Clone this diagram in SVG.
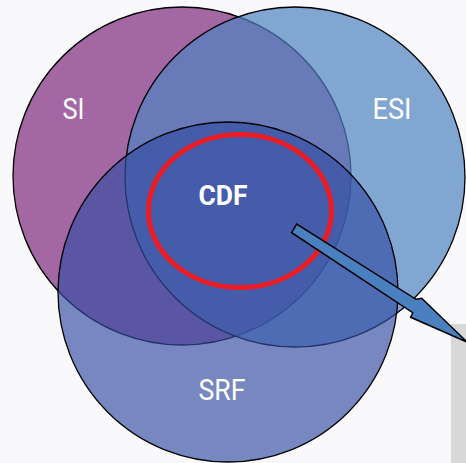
<svg xmlns="http://www.w3.org/2000/svg" width="466" height="463" viewBox="0 0 466 463">
  <style>
    .set { stroke: #000; stroke-width: 1.3; }
    .lbl { font-family: Roboto, "Liberation Sans", sans-serif; font-size: 29px; fill: #fff; text-anchor: middle; }
    .core { font-weight: bold; font-size: 27px; }
  </style>
  <rect x="0" y="0" width="466" height="463" fill="#f9f9fc"/>
  <!-- side panel -->
  <rect x="451" y="324" width="15" height="139" fill="#d8d8d8"/>

  <g id="node-si">
    <circle class="set" cx="182" cy="176" r="169" fill="#a367a4"/>
  </g>
  <g id="node-esi">
    <circle class="set" cx="295" cy="177" r="170" fill="#4f83c0" fill-opacity="0.7"/>
  </g>
  <g id="node-srf">
    <circle class="set" cx="228" cy="292" r="170" fill="#334da2" fill-opacity="0.66"/>
  </g>
  <g id="node-cdf">
    <ellipse cx="240" cy="211" rx="91.5" ry="76.5" fill="none" stroke="#ec1c24" stroke-width="5"/>
  </g>

  <g id="labels">
    <text class="lbl" x="73.5" y="119" textLength="22" lengthAdjust="spacingAndGlyphs">SI</text>
    <text class="lbl" x="392" y="119" textLength="39" lengthAdjust="spacingAndGlyphs">ESI</text>
    <text class="lbl" x="222" y="400" textLength="47" lengthAdjust="spacingAndGlyphs">SRF</text>
    <text class="lbl core" x="223" y="205" textLength="49" lengthAdjust="spacingAndGlyphs">CDF</text>
  </g>

  <g id="connectors">
    <polygon points="291.7,232.7 296.7,224 416,299.3 421.7,298.3 467,342 410.7,317.3 412.7,312.7"
             fill="#4a7fc0" stroke="#000" stroke-width="1.5" stroke-linejoin="miter"/>
  </g>
</svg>
